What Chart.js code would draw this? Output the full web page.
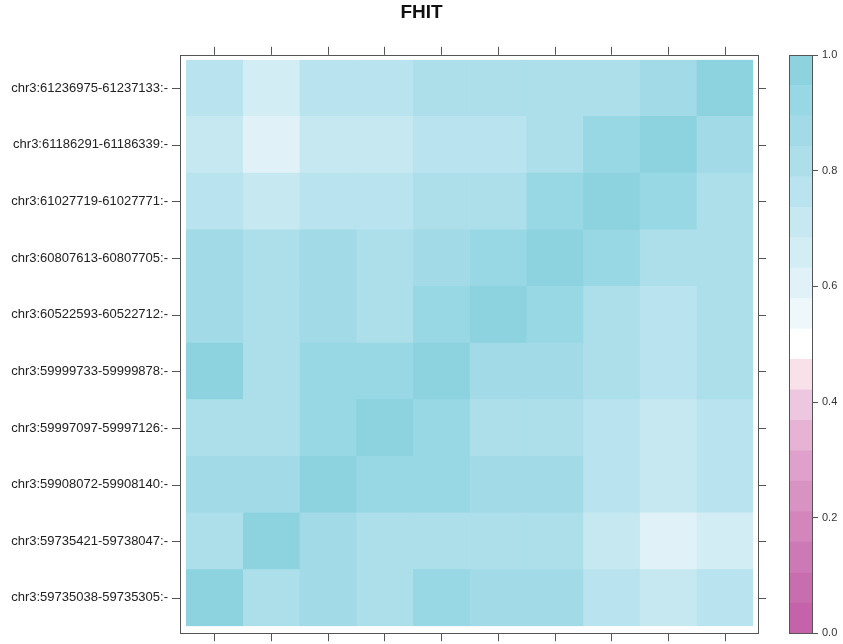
<!DOCTYPE html>
<html>
<head>
<meta charset="utf-8">
<script src="https://cdn.jsdelivr.net/npm/chart.js@4"></script>
<style>
  html, body { margin: 0; padding: 0; background: #fff; }
  #wrap { position: relative; width: 843px; height: 644px; }
  #heat { position: absolute; left: 0; top: 0; }
  #key { position: absolute; left: 760px; top: 0; }
</style>
</head>
<body>
<div id="wrap">
  <canvas id="heat" width="843" height="644"></canvas>
  <canvas id="key" width="83" height="644"></canvas>
</div>
<script>
// row labels, top to bottom
const rowLabels = [
    'chr3:61236975-61237133:-',
    'chr3:61186291-61186339:-',
    'chr3:61027719-61027771:-',
    'chr3:60807613-60807705:-',
    'chr3:60522593-60522712:-',
    'chr3:59999733-59999878:-',
    'chr3:59997097-59997126:-',
    'chr3:59908072-59908140:-',
    'chr3:59735421-59738047:-',
    'chr3:59735038-59735305:-'
];

// cell values, one array per row (top to bottom), columns left to right
const row1  = [0.76, 0.66, 0.76, 0.76, 0.82, 0.82, 0.82, 0.82, 0.87, 0.97];
const row2  = [0.71, 0.61, 0.71, 0.71, 0.76, 0.76, 0.82, 0.92, 0.97, 0.87];
const row3  = [0.76, 0.71, 0.76, 0.76, 0.82, 0.82, 0.92, 0.97, 0.92, 0.82];
const row4  = [0.87, 0.82, 0.87, 0.82, 0.87, 0.90, 0.97, 0.92, 0.82, 0.82];
const row5  = [0.87, 0.82, 0.87, 0.82, 0.92, 0.97, 0.92, 0.82, 0.76, 0.82];
const row6  = [0.97, 0.82, 0.92, 0.92, 0.97, 0.87, 0.87, 0.82, 0.76, 0.82];
const row7  = [0.82, 0.82, 0.92, 0.97, 0.92, 0.82, 0.82, 0.76, 0.71, 0.76];
const row8  = [0.87, 0.87, 0.97, 0.92, 0.92, 0.87, 0.87, 0.76, 0.71, 0.76];
const row9  = [0.82, 0.97, 0.87, 0.82, 0.82, 0.82, 0.82, 0.71, 0.61, 0.66];
const row10 = [0.97, 0.82, 0.87, 0.82, 0.92, 0.87, 0.87, 0.76, 0.71, 0.76];
const rows = [row1, row2, row3, row4, row5, row6, row7, row8, row9, row10];

// colour key
const keyTicks = [0, 0.2, 0.4, 0.6, 0.8, 1.0];
const nBins = 19;
const palette = [
    '#c462aa', '#c86dae', '#cd79b5', '#d386bc', '#d993c3', '#dfa1cb',
    '#e6b3d5', '#edc6e0', '#f9e1ea', '#ffffff', '#eef8fb', '#e0f2f8',
    '#d3edf4', '#c6e8f0', '#b8e3ef', '#acdfea', '#a2dbe7', '#98d7e4', '#8dd3df'
];

function colorFor(v) {
    const b = Math.max(0, Math.min(nBins - 1, Math.floor(v * nBins)));
    return palette[b];
}

const nCols = row1.length;
const frameColor = '#555';

// one dataset per column, stacked along x
const heatSets = [];
for (let c = 0; c < nCols; c++) {
    heatSets.push({
        data: rows.map(() => 1),
        backgroundColor: rows.map(r => colorFor(r[c])),
        borderWidth: 0,
        barPercentage: 1,
        categoryPercentage: 1
    });
}

// lattice-style frame with outward ticks on all four sides
const latticeFrame = {
    id: 'latticeFrame',
    afterDraw(chart) {
        const { ctx, chartArea: a, scales } = chart;
        const L = a.left - 6, T = a.top - 5, R = a.right + 5, B = a.bottom + 7;
        const len = 8;
        ctx.save();
        ctx.strokeStyle = frameColor;
        ctx.lineWidth = 1;
        ctx.strokeRect(Math.round(L) + 0.5, Math.round(T) + 0.5, Math.round(R - L), Math.round(B - T));
        ctx.beginPath();
        for (let c = 0; c < nCols; c++) {
            const x = Math.round(scales.x.getPixelForValue(c + 0.5)) + 0.5;
            ctx.moveTo(x, T); ctx.lineTo(x, T - len);
            ctx.moveTo(x, B); ctx.lineTo(x, B + len);
        }
        for (let r = 0; r < rowLabels.length; r++) {
            const y = Math.round(scales.y.getPixelForValue(r)) + 0.5;
            ctx.moveTo(L, y); ctx.lineTo(L - len, y);
            ctx.moveTo(R, y); ctx.lineTo(R + len, y);
        }
        ctx.stroke();
        ctx.restore();
    }
};

new Chart(document.getElementById('heat'), {
    type: 'bar',
    data: { labels: rowLabels, datasets: heatSets },
    options: {
        indexAxis: 'y',
        responsive: false,
        animation: false,
        layout: { padding: { left: 0, right: 0, top: 0, bottom: -2 } },
        plugins: {
            legend: { display: false },
            tooltip: { enabled: false },
            title: {
                display: true,
                text: 'FHIT',
                color: '#111',
                font: { family: 'Liberation Sans, Arial, sans-serif', size: 19, weight: 'bold' },
                padding: { top: 1, bottom: 36 }
            }
        },
        scales: {
            x: {
                type: 'linear',
                stacked: true,
                min: 0,
                max: nCols,
                display: false
            },
            y: {
                stacked: true,
                grid: { display: false },
                border: { display: false },
                ticks: {
                    color: '#222',
                    padding: 10,
                    font: { family: 'Liberation Sans, Arial, sans-serif', size: 13 }
                },
                afterFit(scale) { scale.width = 186; }
            },
            // empty right-hand gutter that leaves room for the colour key
            gutter: {
                type: 'linear',
                axis: 'y',
                position: 'right',
                grid: { display: false },
                border: { display: false },
                ticks: { display: false },
                afterFit(scale) { scale.width = 90; }
            }
        }
    },
    plugins: [latticeFrame]
});

// colour key: one floating bar per bin
const keySets = palette.map((col, k) => ({
    data: [[k / nBins, (k + 1) / nBins]],
    backgroundColor: col,
    borderWidth: 0,
    barPercentage: 1,
    categoryPercentage: 1,
    grouped: false
}));

const keyFrame = {
    id: 'keyFrame',
    afterDraw(chart) {
        const { ctx, chartArea: a } = chart;
        ctx.save();
        ctx.strokeStyle = frameColor;
        ctx.lineWidth = 1;
        ctx.strokeRect(Math.round(a.left) + 0.5, Math.round(a.top) + 0.5,
            Math.round(a.right - a.left), Math.round(a.bottom - a.top));
        ctx.restore();
    }
};

new Chart(document.getElementById('key'), {
    type: 'bar',
    data: { labels: ['key'], datasets: keySets },
    options: {
        responsive: false,
        animation: false,
        layout: { padding: { left: 29, right: 0, top: 55, bottom: 8 } },
        plugins: { legend: { display: false }, tooltip: { enabled: false } },
        scales: {
            x: { display: false },
            y: {
                position: 'right',
                min: 0,
                max: 1,
                afterBuildTicks(scale) { scale.ticks = keyTicks.map(v => ({ value: v })); },
                grid: {
                    display: true,
                    drawOnChartArea: false,
                    drawTicks: true,
                    tickLength: 6,
                    color: frameColor
                },
                border: { display: true, color: frameColor },
                ticks: {
                    color: '#333',
                    padding: 4,
                    font: { family: 'Liberation Sans, Arial, sans-serif', size: 11 },
                    callback: v => Number(v).toFixed(1)
                },
                afterFit(scale) { scale.width = 31; }
            }
        }
    },
    plugins: [keyFrame]
});
</script>
</body>
</html>
